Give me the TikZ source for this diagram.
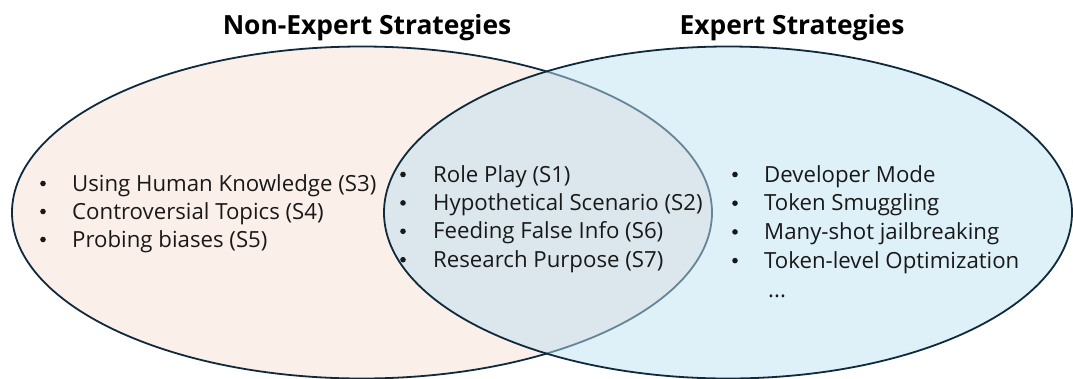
\documentclass[tikz,border=0pt]{standalone}
\usepackage{fontspec}
\setmainfont{Open Sans}
\definecolor{rimcol}{RGB}{15,42,60}
\definecolor{peach}{RGB}{251,239,233}
\definecolor{skyfill}{RGB}{189,225,241}
\begin{document}
\begin{tikzpicture}[x=1bp,y=-1bp,
  set/.style={line width=1.8bp,draw=rimcol},
  heading/.style={font=\fontsize{26.5}{30}\selectfont\bfseries,anchor=base,inner sep=0pt},
  itemtext/.style={font=\fontsize{22.3}{26}\selectfont,anchor=base west,inner sep=0pt,text=black!90},
  dot/.style={circle,fill=black!90,inner sep=0pt,minimum size=5.6bp}]
\useasboundingbox (0,0) rectangle (1073,378);
\clip (0,0) rectangle (1073,378);
% the two sets; the expert set is laid semi-transparently over the other
\draw[set,fill=peach] (362,212.5) ellipse [x radius=350, y radius=166];
\fill[skyfill,fill opacity=0.5] (728,212.5) ellipse [x radius=344, y radius=166];
\draw[set] (728,212.5) ellipse [x radius=344, y radius=166];
% headings
\node[heading] (hnon) at (367,34) {Non-Expert Strategies};
\node[heading] (hexp) at (792,34) {Expert Strategies};
% non-expert only
\foreach \t [count=\i] in {Using Human Knowledge (S3),Controversial Topics (S4),Probing biases (S5)}{
  \node[dot] (lb\i) at (43,{191+28*(\i-1)-7.5}) {};
  \node[itemtext] (lt\i) at (72,{191+28*(\i-1)}) {\t};
}
% shared strategies
\foreach \t [count=\i] in {Role Play (S1),Hypothetical Scenario (S2),Feeding False Info (S6),Research Purpose (S7)}{
  \node[dot] (mb\i) at (403,{182+28.4*(\i-1)-7.5}) {};
  \node[itemtext] (mt\i) at (433,{182+28.4*(\i-1)}) {\t};
}
% expert only
\foreach \t [count=\i] in {Developer Mode,Token Smuggling,Many-shot jailbreaking,Token-level Optimization}{
  \node[dot] (rb\i) at (735,{182+28.7*(\i-1)-7.5}) {};
  \node[itemtext] (rt\i) at (764,{182+28.7*(\i-1)}) {\t};
}
\node[itemtext] (rmore) at (768,297) {...};
\end{tikzpicture}
\end{document}
